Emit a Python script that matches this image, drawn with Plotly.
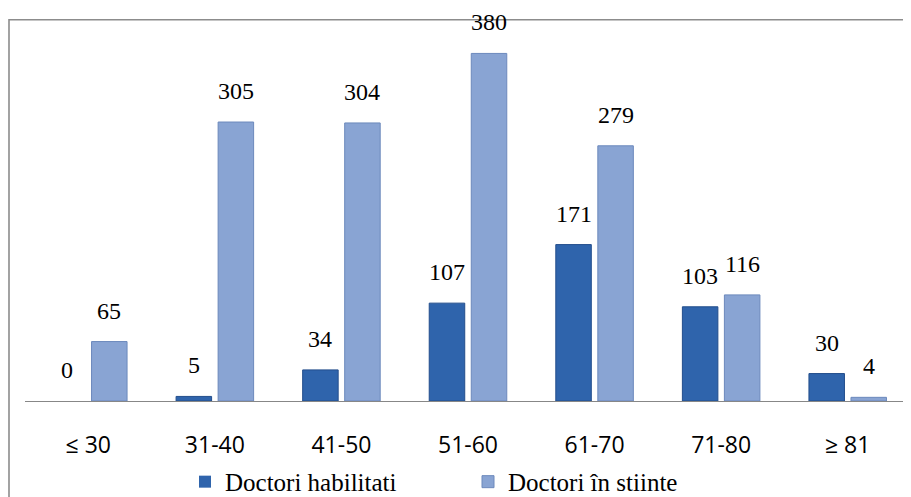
import plotly.graph_objects as go

categories = ["≤ 30", "31-40", "41-50", "51-60", "61-70", "71-80", "≥ 81"]
habilitati = [0, 5, 34, 107, 171, 103, 30]
stiinte = [65, 305, 304, 380, 279, 116, 4]
series_names = ["Doctori habilitati", "Doctori în stiinte"]

DARK = "#2F64AC"
DARK_EDGE = "#234E8C"
LIGHT = "#89A4D3"
LIGHT_EDGE = "#6C89BC"

SERIF = "Liberation Serif"
SANS = "Open Sans"

# the page adds an 8px left body margin, so the figure is narrowed to fit the window
W, H = 903, 497
ML, MT, MB = 17, 20, 99
PW = W - ML
PH = H - MT - MB


def edge_widths(vals):
    return [0 if v == 0 else 1 for v in vals]


fig = go.Figure()
fig.add_trace(go.Bar(x=categories, y=habilitati, name=series_names[0],
                     marker=dict(color=DARK, line=dict(color=DARK_EDGE, width=edge_widths(habilitati)))))
fig.add_trace(go.Bar(x=categories, y=stiinte, name=series_names[1],
                     marker=dict(color=LIGHT, line=dict(color=LIGHT_EDGE, width=edge_widths(stiinte)))))

label_font = dict(family=SERIF, size=24, color="#000000")
for vals, shift in ((habilitati, -21), (stiinte, 21)):
    for c, v in zip(categories, vals):
        fig.add_annotation(x=c, y=v, xref="x", yref="y", text=str(v), showarrow=False,
                           yanchor="bottom", xanchor="center", xshift=shift, yshift=16,
                           font=label_font)

# outer border (extends beyond the visible frame on right and bottom)
fig.add_shape(type="rect", xref="paper", yref="paper",
              x0=(1.0 - ML) / PW, x1=1.05, y0=-0.5, y1=1 + (MT - 11.7) / PH,
              line=dict(color="#8C8C8C", width=1.6), layer="below")

fig.update_layout(
    width=W, height=H,
    margin=dict(l=ML, r=0, t=MT, b=MB),
    paper_bgcolor="white", plot_bgcolor="white",
    font=dict(family=SERIF, color="#000000"),
    barmode="group", bargap=0.336, bargroupgap=0.155,
    showlegend=True,
    legend=dict(orientation="h", x=(185 - 25) / PW, xanchor="left",
                y=-82 / PH, yanchor="middle",
                font=dict(family=SERIF, size=25, color="#000000"),
                entrywidth=238, itemwidth=30, bgcolor="rgba(0,0,0,0)"),
    xaxis=dict(type="category", showline=True, linecolor="#878787", linewidth=1.3,
               ticks="", showgrid=False, zeroline=False, ticklabelstandoff=23,
               tickfont=dict(family=SANS, size=23, color="#000000")),
    yaxis=dict(range=[0, 407.8], visible=False, showgrid=False, zeroline=False),
)

fig.write_html("out.html")
